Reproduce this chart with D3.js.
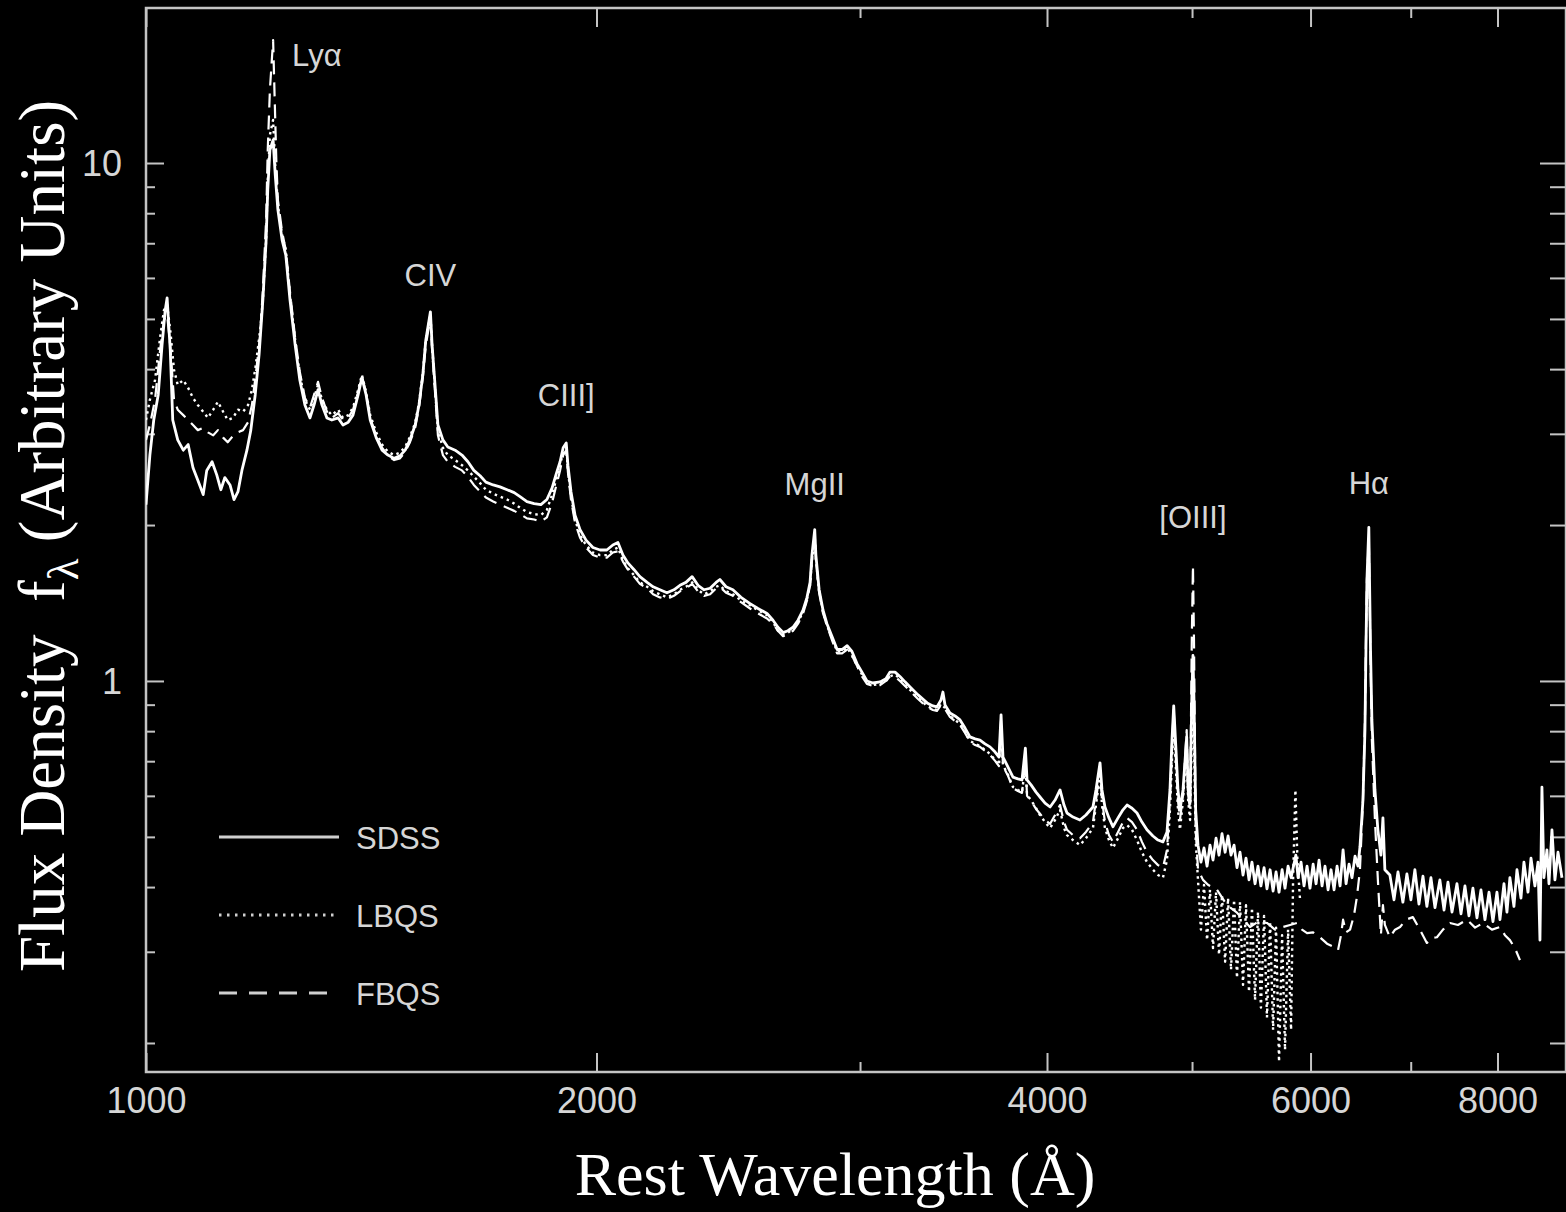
<!DOCTYPE html>
<html>
<head>
<meta charset="utf-8">
<script src="https://cdn.jsdelivr.net/npm/d3@7"></script>
<style>
  html, body { margin: 0; padding: 0; background: #000; }
  svg { display: block; }
</style>
</head>
<body>
<svg id="chart" width="1566" height="1212"></svg>
<script>
/* ── data: composite quasar spectra, [rest wavelength (Å), flux] ── */

const wavelengthDomain = [1000, 8889];
const fluxDomain = [0.1758, 19.92];

const wavelengthTicks = [1000, 2000, 4000, 6000, 8000];
const wavelengthMinorTicks = [3000, 5000, 7000];
const fluxTicks = [1, 10];
const fluxMinorTicks = [0.2, 0.3, 0.4, 0.5, 0.6, 0.7, 0.8, 0.9, 2, 3, 4, 5, 6, 7, 8, 9];

const seriesNames = ["SDSS", "LBQS", "FBQS"];

const sdssSpectrum = [
  [1000,2.19],[1006,2.73],[1012,3.19],[1019,3.57],[1025,4.45],[1030,5.20],[1033,5.49],[1038,4.36],[1042,3.19],[1050,2.92],
  [1059,2.79],[1067,2.86],[1075,2.58],[1083,2.44],[1092,2.29],[1098,2.55],[1107,2.65],[1115,2.50],[1122,2.34],[1129,2.47],
  [1138,2.39],[1145,2.24],[1152,2.32],[1159,2.55],[1168,2.79],[1175,3.05],[1183,3.57],[1190,4.26],[1197,5.44],[1203,7.10],
  [1206,8.87],[1210,10.59],[1216,11.08],[1220,9.48],[1225,8.12],[1233,7.10],[1240,6.64],[1248,5.44],[1258,4.45],[1267,3.81],
  [1277,3.41],[1287,3.22],[1295,3.41],[1303,3.65],[1311,3.41],[1321,3.22],[1331,3.19],[1344,3.22],[1354,3.12],[1365,3.16],
  [1375,3.26],[1386,3.57],[1394,3.85],[1403,3.57],[1412,3.19],[1425,2.95],[1438,2.79],[1451,2.73],[1465,2.69],[1478,2.72],
  [1490,2.79],[1501,2.92],[1513,3.12],[1522,3.41],[1531,3.90],[1538,4.55],[1549,5.16],[1553,4.45],[1560,3.73],[1567,3.12],
  [1579,2.92],[1591,2.83],[1609,2.79],[1626,2.73],[1641,2.65],[1656,2.55],[1672,2.49],[1687,2.42],[1706,2.39],[1724,2.37],
  [1743,2.34],[1762,2.31],[1778,2.27],[1797,2.22],[1817,2.20],[1836,2.19],[1853,2.24],[1868,2.36],[1879,2.50],[1891,2.65],
  [1900,2.82],[1909,2.88],[1914,2.61],[1923,2.32],[1935,2.09],[1950,1.96],[1968,1.87],[1989,1.81],[2011,1.79],[2032,1.79],
  [2051,1.83],[2067,1.85],[2083,1.75],[2099,1.69],[2119,1.64],[2138,1.59],[2162,1.55],[2182,1.52],[2205,1.50],[2229,1.48],
  [2253,1.50],[2274,1.53],[2295,1.55],[2317,1.59],[2338,1.53],[2360,1.50],[2382,1.51],[2404,1.55],[2418,1.57],[2441,1.52],
  [2467,1.50],[2498,1.45],[2533,1.41],[2564,1.38],[2600,1.35],[2624,1.31],[2644,1.27],[2665,1.24],[2685,1.25],[2706,1.27],
  [2727,1.31],[2748,1.37],[2765,1.45],[2778,1.55],[2786,1.75],[2798,1.96],[2803,1.75],[2817,1.50],[2834,1.37],[2851,1.29],
  [2873,1.22],[2896,1.15],[2918,1.15],[2941,1.17],[2963,1.14],[2986,1.08],[3009,1.04],[3032,1.00],[3060,0.991],[3094,0.996],
  [3122,1.01],[3141,1.04],[3166,1.04],[3190,1.02],[3215,0.996],[3240,0.974],[3280,0.940],[3326,0.907],[3356,0.895],[3377,0.891],
  [3398,0.919],[3408,0.952],[3419,0.899],[3445,0.867],[3472,0.856],[3499,0.841],[3526,0.811],[3553,0.780],[3581,0.773],[3608,0.769],
  [3636,0.756],[3664,0.746],[3693,0.729],[3715,0.713],[3727,0.860],[3738,0.713],[3767,0.682],[3796,0.652],[3825,0.647],[3849,0.644],
  [3869,0.742],[3879,0.644],[3903,0.630],[3933,0.610],[3957,0.597],[3988,0.581],[4019,0.571],[4050,0.589],[4081,0.616],[4106,0.576],
  [4125,0.556],[4163,0.546],[4208,0.539],[4247,0.551],[4293,0.571],[4313,0.616],[4340,0.695],[4353,0.616],[4373,0.571],[4400,0.544],
  [4427,0.523],[4462,0.544],[4496,0.564],[4524,0.576],[4559,0.568],[4594,0.556],[4629,0.534],[4665,0.516],[4708,0.502],[4745,0.493],
  [4781,0.489],[4811,0.511],[4833,0.616],[4848,0.769],[4861,0.895],[4878,0.736],[4893,0.616],[4908,0.564],[4931,0.616],[4959,0.780],
  [4970,0.616],[4985,0.589],[4998,0.919],[5007,1.12],[5015,0.919],[5028,0.564],[5046,0.482],[5069,0.447],[5093,0.476],[5117,0.439],
  [5140,0.482],[5164,0.451],[5188,0.497],[5212,0.461],[5236,0.507],[5261,0.467],[5285,0.502],[5309,0.461],[5334,0.482],[5358,0.436],
  [5383,0.467],[5408,0.422],[5433,0.455],[5458,0.413],[5483,0.447],[5509,0.406],[5534,0.439],[5559,0.402],[5586,0.436],[5611,0.397],
  [5638,0.432],[5664,0.393],[5690,0.428],[5716,0.391],[5743,0.432],[5769,0.398],[5796,0.439],[5823,0.417],[5866,0.461],[5886,0.417],
  [5913,0.447],[5940,0.402],[5968,0.439],[5995,0.398],[6024,0.443],[6051,0.406],[6079,0.451],[6107,0.402],[6135,0.439],[6164,0.395],
  [6192,0.432],[6221,0.395],[6250,0.439],[6279,0.402],[6308,0.472],[6337,0.406],[6366,0.443],[6395,0.417],[6425,0.459],[6454,0.439],
  [6474,0.478],[6504,0.589],[6524,0.804],[6534,1.15],[6544,1.57],[6563,1.98],[6570,1.57],[6580,1.15],[6594,0.841],[6625,0.616],
  [6655,0.516],[6686,0.461],[6707,0.544],[6727,0.432],[6779,0.422],[6822,0.378],[6864,0.428],[6916,0.374],[6959,0.424],[7002,0.378],
  [7045,0.432],[7089,0.371],[7133,0.420],[7176,0.367],[7221,0.417],[7266,0.365],[7321,0.413],[7368,0.361],[7413,0.409],[7459,0.358],
  [7516,0.406],[7563,0.355],[7609,0.402],[7656,0.352],[7703,0.398],[7751,0.349],[7799,0.395],[7847,0.346],[7896,0.391],[7944,0.343],
  [7993,0.391],[8030,0.346],[8080,0.406],[8117,0.358],[8154,0.417],[8205,0.367],[8243,0.432],[8294,0.381],[8332,0.447],[8384,0.391],
  [8423,0.455],[8474,0.402],[8514,0.447],[8540,0.316],[8566,0.624],[8592,0.417],[8632,0.472],[8659,0.406],[8699,0.516],[8739,0.413],
  [8780,0.467],[8834,0.417]
];

const lbqsSpectrum = [
  [1000,3.19],[1006,3.49],[1014,3.81],[1022,4.61],[1028,5.20],[1033,5.32],[1038,4.76],[1044,3.99],[1050,3.73],[1059,3.81],
  [1067,3.68],[1075,3.52],[1083,3.41],[1092,3.31],[1100,3.22],[1109,3.34],[1117,3.46],[1126,3.31],[1134,3.19],[1143,3.22],
  [1152,3.34],[1161,3.31],[1170,3.41],[1177,3.65],[1184,4.07],[1192,4.76],[1197,5.44],[1203,7.10],[1206,9.27],[1210,11.32],
  [1216,12.11],[1220,9.91],[1225,8.30],[1233,7.26],[1240,6.79],[1248,5.56],[1258,4.55],[1267,3.90],[1277,3.49],[1287,3.34],
  [1295,3.52],[1303,3.73],[1311,3.49],[1321,3.34],[1331,3.26],[1344,3.34],[1354,3.22],[1365,3.26],[1375,3.37],[1386,3.65],
  [1394,3.90],[1403,3.61],[1412,3.26],[1425,3.02],[1438,2.86],[1451,2.77],[1465,2.73],[1478,2.76],[1490,2.83],[1501,2.96],
  [1513,3.15],[1522,3.44],[1531,3.93],[1538,4.55],[1549,5.09],[1553,4.45],[1560,3.68],[1567,3.05],[1579,2.82],[1591,2.73],
  [1609,2.67],[1626,2.61],[1641,2.55],[1656,2.48],[1672,2.41],[1687,2.34],[1706,2.30],[1724,2.27],[1743,2.24],[1762,2.20],
  [1778,2.16],[1797,2.12],[1817,2.10],[1836,2.09],[1853,2.14],[1868,2.29],[1879,2.44],[1891,2.61],[1900,2.77],[1909,2.82],
  [1914,2.55],[1923,2.27],[1935,2.05],[1950,1.91],[1968,1.83],[1989,1.77],[2011,1.75],[2032,1.75],[2051,1.79],[2067,1.81],
  [2083,1.71],[2099,1.65],[2119,1.60],[2138,1.55],[2162,1.52],[2182,1.49],[2205,1.47],[2229,1.45],[2253,1.47],[2274,1.50],
  [2295,1.52],[2317,1.55],[2338,1.50],[2360,1.47],[2382,1.49],[2404,1.52],[2418,1.53],[2441,1.49],[2467,1.47],[2498,1.43],
  [2533,1.40],[2564,1.37],[2600,1.34],[2624,1.30],[2644,1.25],[2665,1.23],[2685,1.24],[2706,1.26],[2727,1.30],[2748,1.36],
  [2765,1.44],[2778,1.53],[2786,1.71],[2798,1.90],[2803,1.71],[2817,1.49],[2834,1.36],[2851,1.28],[2873,1.21],[2896,1.14],
  [2918,1.14],[2941,1.16],[2963,1.12],[2986,1.07],[3009,1.03],[3032,0.991],[3060,0.982],[3094,0.987],[3122,1.00],[3141,1.02],
  [3166,1.03],[3190,1.01],[3215,0.982],[3240,0.961],[3280,0.927],[3326,0.895],[3356,0.883],[3377,0.879],[3398,0.903],[3419,0.887],
  [3445,0.856],[3472,0.841],[3499,0.826],[3526,0.797],[3553,0.766],[3581,0.756],[3608,0.749],[3636,0.736],[3664,0.723],[3693,0.704],
  [3715,0.688],[3727,0.804],[3738,0.688],[3767,0.659],[3796,0.624],[3825,0.616],[3849,0.610],[3869,0.688],[3879,0.603],[3903,0.589],
  [3933,0.568],[3957,0.551],[3988,0.534],[4019,0.520],[4050,0.539],[4081,0.564],[4106,0.520],[4125,0.504],[4163,0.493],[4208,0.482],
  [4247,0.497],[4293,0.520],[4313,0.576],[4340,0.659],[4353,0.576],[4373,0.520],[4400,0.493],[4427,0.476],[4462,0.497],[4496,0.520],
  [4524,0.527],[4559,0.516],[4594,0.493],[4629,0.467],[4665,0.447],[4708,0.432],[4745,0.422],[4781,0.417],[4811,0.451],[4833,0.564],
  [4848,0.704],[4861,0.822],[4878,0.673],[4893,0.564],[4908,0.516],[4931,0.589],[4959,0.752],[4970,0.589],[4985,0.539],[4998,0.769],
  [5007,0.961],[5015,0.769],[5028,0.493],[5046,0.413],[5069,0.331],[5093,0.404],[5117,0.316],[5140,0.395],[5164,0.305],[5188,0.391],
  [5212,0.296],[5236,0.386],[5261,0.287],[5285,0.381],[5309,0.277],[5334,0.378],[5358,0.267],[5383,0.374],[5408,0.259],[5433,0.369],
  [5458,0.251],[5483,0.365],[5509,0.242],[5534,0.358],[5559,0.234],[5586,0.352],[5611,0.224],[5638,0.343],[5664,0.212],[5690,0.334],
  [5716,0.184],[5743,0.323],[5769,0.194],[5796,0.331],[5823,0.212],[5841,0.413],[5862,0.616],[5880,0.451],[5904,0.378]
];

const fbqsSpectrum = [
  [1000,2.92],[1006,3.12],[1014,3.49],[1022,4.36],[1028,4.98],[1033,5.09],[1038,4.45],[1044,3.49],[1050,3.34],[1059,3.26],
  [1067,3.19],[1075,3.12],[1083,3.05],[1092,3.08],[1100,3.02],[1109,2.98],[1117,3.05],[1126,2.95],[1134,2.89],[1143,2.97],
  [1152,3.02],[1161,3.05],[1170,3.16],[1177,3.41],[1184,3.90],[1192,4.66],[1197,5.69],[1203,7.76],[1206,10.59],[1210,13.83],
  [1216,17.28],[1219,13.23],[1222,10.13],[1225,8.48],[1233,7.36],[1240,6.79],[1248,5.64],[1258,4.59],[1267,3.95],[1277,3.52],
  [1287,3.37],[1295,3.57],[1303,3.78],[1311,3.52],[1321,3.31],[1331,3.22],[1344,3.29],[1354,3.19],[1365,3.22],[1375,3.34],
  [1386,3.61],[1394,3.88],[1403,3.60],[1412,3.22],[1425,2.97],[1438,2.82],[1451,2.72],[1465,2.67],[1478,2.69],[1490,2.77],
  [1501,2.89],[1513,3.08],[1522,3.37],[1531,3.85],[1538,4.45],[1549,5.02],[1553,4.36],[1560,3.61],[1567,2.98],[1579,2.73],
  [1591,2.65],[1609,2.59],[1626,2.55],[1641,2.48],[1656,2.39],[1672,2.32],[1687,2.26],[1706,2.22],[1724,2.19],[1743,2.16],
  [1762,2.13],[1778,2.10],[1797,2.06],[1817,2.05],[1836,2.03],[1853,2.07],[1868,2.21],[1879,2.37],[1891,2.55],[1900,2.73],
  [1909,2.79],[1914,2.53],[1923,2.24],[1935,2.02],[1950,1.89],[1968,1.81],[1989,1.75],[2011,1.73],[2032,1.73],[2051,1.77],
  [2067,1.78],[2083,1.70],[2099,1.64],[2119,1.59],[2138,1.54],[2162,1.51],[2182,1.47],[2205,1.45],[2229,1.44],[2253,1.46],
  [2274,1.49],[2295,1.51],[2317,1.54],[2338,1.49],[2360,1.46],[2382,1.47],[2404,1.51],[2418,1.52],[2441,1.48],[2467,1.46],
  [2498,1.42],[2533,1.38],[2564,1.35],[2600,1.32],[2624,1.29],[2644,1.25],[2665,1.22],[2685,1.23],[2706,1.25],[2727,1.29],
  [2748,1.35],[2765,1.43],[2778,1.53],[2786,1.71],[2798,1.91],[2803,1.71],[2817,1.48],[2834,1.35],[2851,1.28],[2873,1.20],
  [2896,1.13],[2918,1.13],[2941,1.15],[2963,1.12],[2986,1.07],[3009,1.02],[3032,0.987],[3060,0.978],[3094,0.982],[3122,1.00],
  [3141,1.02],[3166,1.02],[3190,1.00],[3215,0.978],[3240,0.956],[3280,0.923],[3326,0.891],[3356,0.879],[3377,0.875],[3398,0.899],
  [3419,0.883],[3445,0.852],[3472,0.837],[3499,0.822],[3526,0.794],[3553,0.763],[3581,0.752],[3608,0.746],[3636,0.733],[3664,0.720],
  [3693,0.701],[3715,0.685],[3727,0.841],[3738,0.685],[3767,0.656],[3796,0.621],[3825,0.613],[3849,0.608],[3869,0.704],[3879,0.600],
  [3903,0.587],[3933,0.566],[3957,0.554],[3988,0.539],[4019,0.530],[4050,0.551],[4081,0.576],[4106,0.534],[4125,0.516],[4163,0.504],
  [4208,0.497],[4247,0.511],[4293,0.534],[4313,0.589],[4340,0.673],[4353,0.589],[4373,0.534],[4400,0.504],[4427,0.489],[4462,0.511],
  [4496,0.534],[4524,0.544],[4559,0.534],[4594,0.516],[4629,0.489],[4665,0.467],[4708,0.451],[4745,0.441],[4781,0.436],[4811,0.472],
  [4833,0.589],[4848,0.752],[4861,0.879],[4878,0.704],[4893,0.589],[4908,0.539],[4931,0.603],[4959,0.804],[4970,0.603],[4985,0.564],
  [4998,1.20],[5007,1.67],[5015,1.20],[5028,0.516],[5046,0.432],[5085,0.413],[5124,0.404],[5196,0.395],[5276,0.369],[5358,0.357],
  [5466,0.335],[5534,0.343],[5611,0.341],[5681,0.331],[5752,0.335],[5814,0.338],[5877,0.341],[5922,0.331],[5968,0.326],[6024,0.327],
  [6088,0.320],[6154,0.311],[6211,0.307],[6259,0.302],[6288,0.323],[6308,0.346],[6337,0.327],[6376,0.331],[6415,0.353],[6444,0.383],
  [6474,0.432],[6504,0.589],[6524,0.841],[6534,1.20],[6544,1.57],[6563,1.87],[6570,1.50],[6580,1.10],[6594,0.769],[6625,0.539],
  [6655,0.413],[6686,0.323],[6707,0.369],[6727,0.338],[6779,0.320],[6833,0.331],[6886,0.335],[6950,0.346],[7023,0.350],[7100,0.331],
  [7176,0.312],[7232,0.319],[7288,0.320],[7356,0.331],[7436,0.341],[7528,0.338],[7633,0.346],[7728,0.334],[7823,0.341],[7932,0.331],
  [8030,0.335],[8092,0.323],[8154,0.316],[8217,0.305],[8281,0.289]
];

// emission line labels: name, wavelength and flux of the label's anchor
const lineNames = ["Lyα", "CIV", "CIII]", "MgII", "[OIII]", "Hα"];
const lineLabelWave = [1252, 1549, 1909, 2798, 5007, 6563];
const lineLabelFlux = [15.4, 5.79, 3.40, 2.29, 1.97, 2.30];

/* ── layout ── */
const svg = d3.select("#chart");
const plot = { left: 146, right: 1566, top: 8, bottom: 1072 };
const axisColor = "#c4c4c4";
const textColor = "#d6d6d6";
const sansFont = "'Liberation Sans', Arial, Helvetica, sans-serif";
const serifFont = "'Liberation Serif', 'Times New Roman', Times, serif";

svg.append("rect").attr("width", 1566).attr("height", 1212).attr("fill", "#000");

const x = d3.scaleLog().domain(wavelengthDomain).range([plot.left, plot.right]);
const y = d3.scaleLog().domain(fluxDomain).range([plot.bottom, plot.top]);

/* frame */
svg.append("rect")
  .attr("x", plot.left).attr("y", plot.top)
  .attr("width", plot.right - plot.left).attr("height", plot.bottom - plot.top)
  .attr("fill", "none").attr("stroke", axisColor).attr("stroke-width", 2.5);

function styleAxis(g, fontSize) {
  g.select(".domain").remove();
  g.selectAll("line").attr("stroke", axisColor).attr("stroke-width", 2);
  g.selectAll("text")
    .attr("fill", textColor)
    .attr("font-family", sansFont)
    .attr("font-size", fontSize);
}

/* x axes (ticks point inward) */
svg.append("g")
  .attr("transform", `translate(0,${plot.bottom})`)
  .call(d3.axisBottom(x).tickValues(wavelengthTicks).tickFormat(d => d).tickSize(-19).tickPadding(0))
  .call(g => styleAxis(g, 36))
  .call(g => g.selectAll("text").attr("dy", null).attr("y", 41));

svg.append("g")
  .attr("transform", `translate(0,${plot.bottom})`)
  .call(d3.axisBottom(x).tickValues(wavelengthMinorTicks).tickFormat("").tickSize(-10))
  .call(g => styleAxis(g, 0));

svg.append("g")
  .attr("transform", `translate(0,${plot.top})`)
  .call(d3.axisTop(x).tickValues(wavelengthTicks).tickFormat("").tickSize(-19))
  .call(g => styleAxis(g, 0));

svg.append("g")
  .attr("transform", `translate(0,${plot.top})`)
  .call(d3.axisTop(x).tickValues(wavelengthMinorTicks).tickFormat("").tickSize(-10))
  .call(g => styleAxis(g, 0));

/* y axes */
svg.append("g")
  .attr("transform", `translate(${plot.left},0)`)
  .call(d3.axisLeft(y).tickValues(fluxTicks).tickFormat(d3.format("d")).tickSize(-18).tickPadding(24))
  .call(g => styleAxis(g, 36))
  .call(g => g.selectAll("text").attr("dy", "0.36em"));

svg.append("g")
  .attr("transform", `translate(${plot.left},0)`)
  .call(d3.axisLeft(y).tickValues(fluxMinorTicks).tickFormat("").tickSize(-9))
  .call(g => styleAxis(g, 0));

svg.append("g")
  .attr("transform", `translate(${plot.right},0)`)
  .call(d3.axisRight(y).tickValues(fluxTicks).tickFormat("").tickSize(-26))
  .call(g => styleAxis(g, 0));

svg.append("g")
  .attr("transform", `translate(${plot.right},0)`)
  .call(d3.axisRight(y).tickValues(fluxMinorTicks).tickFormat("").tickSize(-16))
  .call(g => styleAxis(g, 0));

/* spectra */
svg.append("clipPath").attr("id", "plot-clip")
  .append("rect")
  .attr("x", plot.left).attr("y", plot.top)
  .attr("width", plot.right - plot.left).attr("height", plot.bottom - plot.top);

const line = d3.line().x(d => x(d[0])).y(d => y(d[1]));

const series = [
  { name: seriesNames[2], data: fbqsSpectrum, dash: "14,8", width: 2.2 },
  { name: seriesNames[1], data: lbqsSpectrum, dash: "2.5,4", width: 2.4 },
  { name: seriesNames[0], data: sdssSpectrum, dash: null, width: 2.8 }
];

const spectra = svg.append("g").attr("clip-path", "url(#plot-clip)");
series.forEach(s => {
  spectra.append("path")
    .datum(s.data)
    .attr("fill", "none")
    .attr("stroke", "#fff")
    .attr("stroke-width", s.width)
    .attr("stroke-linejoin", "round")
    .attr("stroke-dasharray", s.dash)
    .attr("d", line);
});

/* emission line labels */
svg.append("g")
  .selectAll("text")
  .data(lineNames)
  .join("text")
    .attr("x", (d, i) => x(lineLabelWave[i]))
    .attr("y", (d, i) => y(lineLabelFlux[i]))
    .attr("text-anchor", (d, i) => i === 0 ? "start" : "middle")
    .attr("fill", textColor)
    .attr("font-family", sansFont)
    .attr("font-size", 31)
    .text(d => d);

/* legend */
const legendDash = [null, "2.5,5.5", "18,12"];
const legend = svg.append("g");
seriesNames.forEach((name, i) => {
  const ly = 837 + i * 78;
  legend.append("line")
    .attr("x1", 219).attr("x2", 339).attr("y1", ly).attr("y2", ly)
    .attr("stroke", "#cfcfcf").attr("stroke-width", 3)
    .attr("stroke-dasharray", legendDash[i]);
  legend.append("text")
    .attr("x", 356).attr("y", ly + 12)
    .attr("fill", textColor)
    .attr("font-family", sansFont)
    .attr("font-size", 31)
    .text(name);
});

/* axis titles */
svg.append("text")
  .attr("x", 835).attr("y", 1195)
  .attr("text-anchor", "middle")
  .attr("fill", "#fff")
  .attr("font-family", serifFont)
  .attr("font-size", 62)
  .text("Rest Wavelength (Å)");

const yTitle = svg.append("text")
  .attr("transform", "translate(64,536) rotate(-90)")
  .attr("text-anchor", "middle")
  .attr("fill", "#fff")
  .attr("font-family", serifFont)
  .attr("font-size", 65);
yTitle.append("tspan").text("Flux Density\u00a0\u00a0f");
yTitle.append("tspan").attr("font-size", 45).attr("dy", 14).text("λ");
yTitle.append("tspan").attr("dy", -14).text("\u00a0(Arbitrary Units)");
</script>
</body>
</html>
